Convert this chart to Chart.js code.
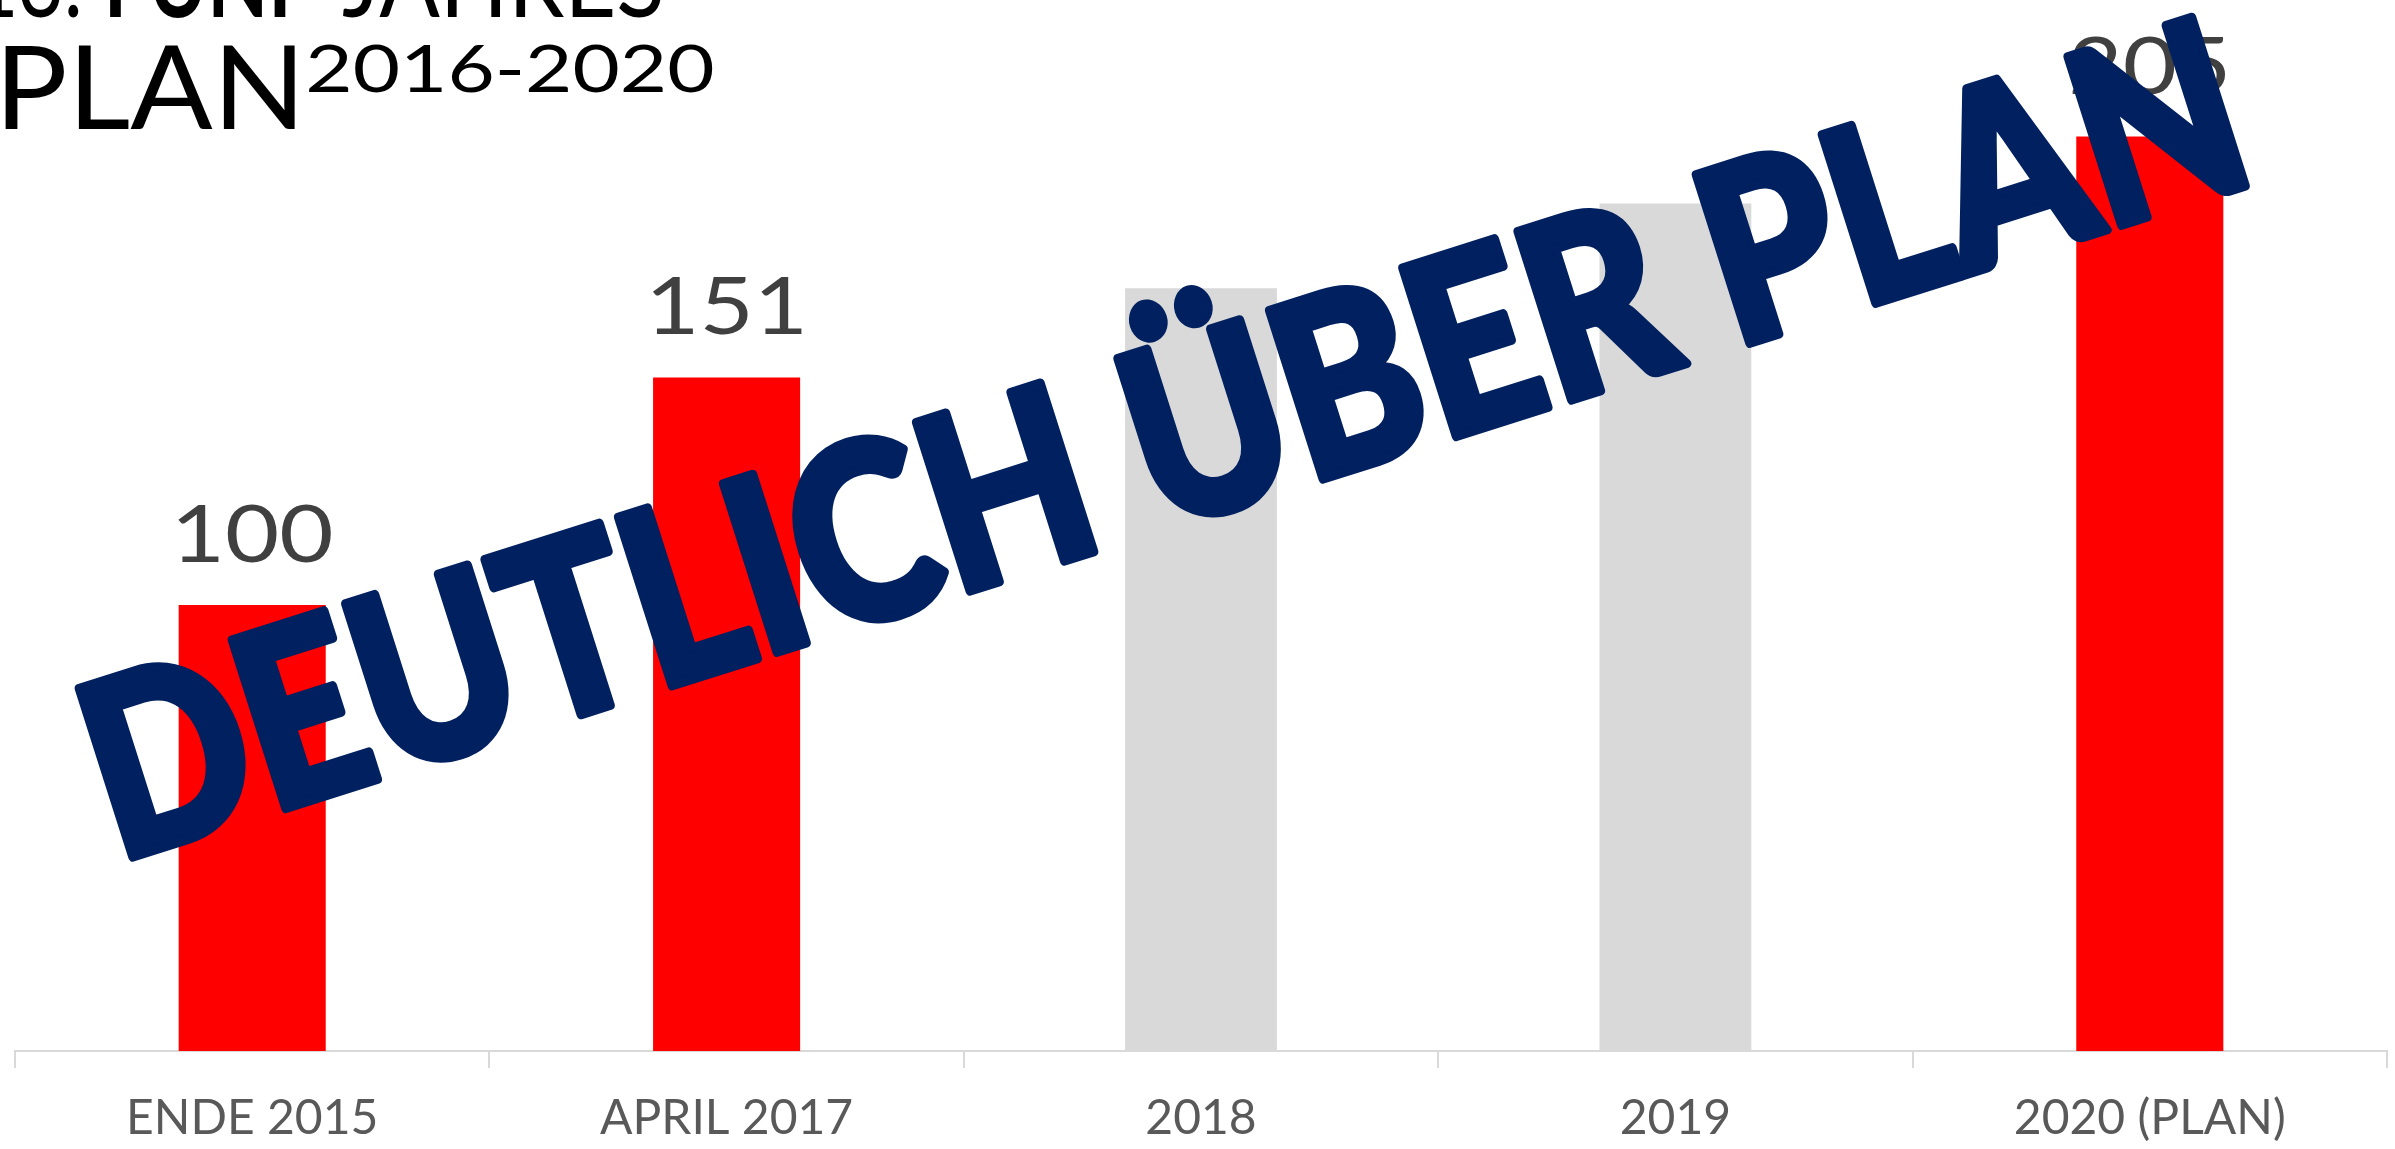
<!DOCTYPE html>
<html lang="de">
<head>
<meta charset="utf-8">
<title>13. Fünfjahresplan 2016-2020</title>
<script src="https://cdn.jsdelivr.net/npm/chart.js@4.4.1/dist/chart.umd.min.js"></script>
<style>
  html, body { margin: 0; padding: 0; background: #fff; }
  #wrap { position: relative; width: 2395px; height: 1149px; }
</style>
</head>
<body>
<div id="wrap"><canvas id="chart"></canvas></div>
<script>
// Werte
const kategorien = ['ENDE 2015', 'APRIL 2017', '2018', '2019', '2020 (PLAN)'];
const istWerte = [100, 151, null, null, 205];
const trendWerte = [null, null, 171, 190, null];
const stempelText = 'DEUTLICH ÜBER PLAN';

const ROT = '#ff0000';
const GRAU = '#d9d9d9';
const STEMPEL = '#002060';

// Text so zeichnen, dass die Tinte genau zwischen left und left+width liegt
function fitText(ctx, text, left, baseline, width, font) {
  ctx.font = font;
  const m = ctx.measureText(text);
  const ink = m.actualBoundingBoxLeft + m.actualBoundingBoxRight;
  const sx = width / ink;
  ctx.save();
  ctx.translate(left, baseline);
  ctx.scale(sx, 1);
  ctx.fillText(text, m.actualBoundingBoxLeft, 0);
  ctx.restore();
}

const titelPlugin = {
  id: 'titel',
  afterDraw(chart) {
    const ctx = chart.ctx;
    ctx.save();
    ctx.fillStyle = '#000';
    ctx.textBaseline = 'alphabetic';
    ctx.textAlign = 'left';
    fitText(ctx, '13.', -21, 17, 100, '400 100px Lato');
    fitText(ctx, 'FÜNF', 110, 17, 201, '700 100px Lato');
    fitText(ctx, 'JAHRES', 343, 17, 318, '400 100px Lato');
    fitText(ctx, 'PLAN', 5, 129, 290, '400 117px Lato');
    fitText(ctx, '2016-2020', 309, 92, 404, '400 66px Lato');
    ctx.restore();
  }
};

const wertePlugin = {
  id: 'werte',
  afterDatasetsDraw(chart) {
    const ctx = chart.ctx;
    const meta = chart.getDatasetMeta(0);
    ctx.save();
    ctx.font = '400 80px Lato';
    ctx.fillStyle = '#404040';
    ctx.textAlign = 'center';
    ctx.textBaseline = 'alphabetic';
    meta.data.forEach((bar, i) => {
      const v = istWerte[i];
      if (v == null) return;
      ctx.save();
      ctx.translate(bar.x, bar.y - 43);
      ctx.scale(1.17, 1);
      ctx.fillText(String(v), 0, 0);
      ctx.restore();
    });
    ctx.restore();
  }
};

const stempelPlugin = {
  id: 'stempel',
  afterDraw(chart) {
    const ctx = chart.ctx;
    const rand = 4; // halbe Konturbreite
    const x0 = 127, y0 = 863, x1 = 2252, y1 = 188;
    const winkel = Math.atan2(y1 - y0, x1 - x0);
    const laenge = Math.hypot(x1 - x0, y1 - y0) - 2 * rand;
    ctx.save();
    ctx.fillStyle = STEMPEL;
    ctx.strokeStyle = STEMPEL;
    ctx.font = '900 260px Lato';
    ctx.textBaseline = 'alphabetic';
    ctx.textAlign = 'left';
    const m = ctx.measureText(stempelText);
    const ink = m.actualBoundingBoxLeft + m.actualBoundingBoxRight;
    const capH = ctx.measureText('H').actualBoundingBoxAscent;
    const sx = laenge / ink;
    const sy = (187 - 2 * rand) / capH;
    ctx.translate(x0, y0);
    ctx.rotate(winkel);
    ctx.translate(rand, -rand);
    ctx.scale(sx, sy);
    ctx.lineJoin = 'round';
    ctx.lineWidth = (2 * rand) / Math.min(sx, sy);
    ctx.fillText(stempelText, m.actualBoundingBoxLeft, 0);
    ctx.strokeText(stempelText, m.actualBoundingBoxLeft, 0);
    ctx.restore();
  }
};

function zeichnen() {
  new Chart(document.getElementById('chart'), {
    type: 'bar',
    data: {
      labels: kategorien,
      datasets: [
        {
          label: 'Ist',
          data: istWerte,
          backgroundColor: ROT,
          barPercentage: 0.31,
          categoryPercentage: 1,
          grouped: false
        },
        {
          label: 'Trend',
          data: trendWerte,
          backgroundColor: GRAU,
          barPercentage: 0.32,
          categoryPercentage: 1,
          grouped: false
        }
      ]
    },
    options: {
      responsive: true,
      maintainAspectRatio: false,
      animation: false,
      layout: { padding: { left: 15, right: 8, top: 25, bottom: 0 } },
      plugins: {
        legend: { display: false },
        tooltip: { enabled: false },
        title: { display: false }
      },
      scales: {
        x: {
          offset: true,
          border: { color: GRAU, width: 2 },
          grid: {
            offset: true,
            drawOnChartArea: false,
            drawTicks: true,
            tickLength: 17,
            color: GRAU,
            lineWidth: 2
          },
          ticks: {
            color: '#595959',
            font: { family: 'Lato', size: 48 },
            padding: 22,
            maxRotation: 0,
            autoSkip: false
          },
          afterFit(scale) { scale.height = 98; }
        },
        y: {
          display: false,
          min: 0,
          max: 230
        }
      }
    },
    plugins: [wertePlugin, titelPlugin, stempelPlugin]
  });
}

Promise.all([
  document.fonts.load('400 48px Lato'),
  document.fonts.load('700 100px Lato'),
  document.fonts.load('900 260px Lato')
]).then(zeichnen, zeichnen);
</script>
</body>
</html>
